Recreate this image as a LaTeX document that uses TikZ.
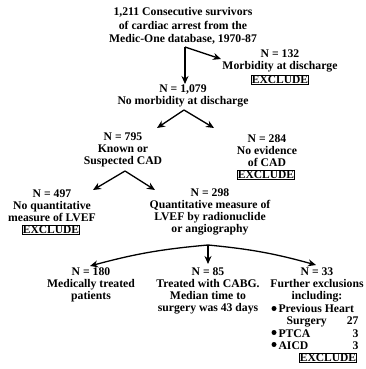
\documentclass[tikz,border=0pt]{standalone}
\usepackage{fontspec}
\setmainfont{Liberation Serif}
\usetikzlibrary{arrows.meta}
\begin{document}
\begin{tikzpicture}[x=1pt,y=-1pt,
 txt/.style={align=center,font=\fontsize{11.7}{12.2}\selectfont\bfseries,inner sep=0pt},
 excl/.style={draw,line width=0.8pt,font=\fontsize{11.5}{12}\selectfont\bfseries,inner xsep=0.6pt,inner ysep=0.6pt},
 arr/.style={line width=1.3pt,-{Stealth[length=8pt,width=7pt]}},
 dot/.style={circle,fill,inner sep=0pt,minimum size=5pt}]
\useasboundingbox (0,0) rectangle (365,369);
\node[txt,font=\fontsize{11.7}{13.5}\selectfont\bfseries] (top) at (183,26) {1,211 Consecutive survivors\\of cardiac arrest from the\\Medic-One database, 1970-87};
\node[txt] (n132) at (280,61) {N = 132\\Morbidity at discharge};
\node[excl] (x132) at (280,80) {EXCLUDE};
\node[txt] (n1079) at (183,95.5) {N = 1,079\\No morbidity at discharge};
\node[txt] (n795) at (123,150) {N = 795\\Known or\\Suspected CAD};
\node[txt] (n284) at (267,150.5) {N = 284\\No evidence\\of CAD};
\node[excl] (x284) at (266,174.5) {EXCLUDE};
\node[txt] (n497) at (52,206) {N = 497\\No quantitative\\measure of LVEF};
\node[excl] (x497) at (51,230) {EXCLUDE};
\node[txt] (n298) at (210,212) {N = 298\\Quantitative measure of\\LVEF by radionuclide\\or angiography};
\node[txt] (n180) at (91,285) {N = 180\\Medically treated\\patients};
\node[txt] (n85) at (208,291) {N = 85\\Treated with CABG.\\Median time to\\surgery was 43 days};
\node[txt] (n33) at (317,285) {N = 33\\Further exclusions\\including:};
\node[txt,align=left] (list) at (318.5,327) {%
\makebox[80pt][l]{Previous Heart}\\
\makebox[80pt][l]{\hspace{8pt}Surgery\hfill 27}\\
\makebox[80pt][l]{PTCA\hfill 3}\\
\makebox[80pt][l]{AICD\hfill 3}};
\node[dot] (b1) at (274,308.5) {};
\node[dot] (b2) at (274,332.5) {};
\node[dot] (b3) at (274,344.5) {};
\node[excl] (x33) at (328,357.5) {EXCLUDE};
% split points and arrow ends
\coordinate (s1) at (185,47);
\coordinate (t1079) at (185,84);
\coordinate (t132) at (221,59);
\coordinate (s2) at (184,110);
\coordinate (t795) at (157,128);
\coordinate (t284) at (214,128);
\coordinate (s3) at (125,171);
\coordinate (t497) at (93,190);
\coordinate (t298) at (155,190);
\coordinate (s4) at (208,245);
\coordinate (t180) at (90,266);
\coordinate (t85) at (208,264);
\coordinate (t33) at (316,265);
\draw[arr] (s1) -- (t1079);
\draw[arr] (s1) -- (t132);
\draw[arr] (s2) -- (t795);
\draw[arr] (s2) -- (t284);
\draw[arr] (s3) -- (t497);
\draw[arr] (s3) -- (t298);
\draw[arr] (s4) -- (t85);
\draw[arr] (s4) to[bend right=5] (t180);
\draw[arr] (s4) to[bend left=5] (t33);
\end{tikzpicture}
\end{document}
